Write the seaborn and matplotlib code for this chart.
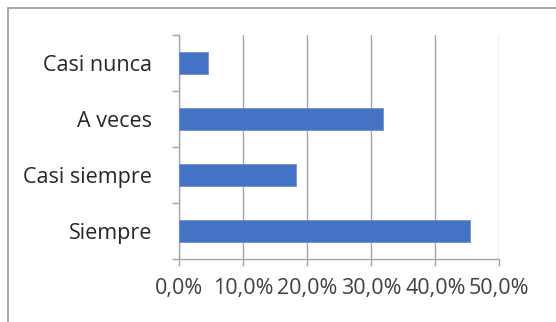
import matplotlib
matplotlib.use("Agg")
import matplotlib.pyplot as plt
from matplotlib.patches import Rectangle
import seaborn as sns
import pandas as pd

categories = ["Casi nunca", "A veces", "Casi siempre", "Siempre"]
values = [4.5, 31.8, 18.2, 45.5]
x_ticks = [0, 10, 20, 30, 40, 50]
x_tick_labels = ["0,0%", "10,0%", "20,0%", "30,0%", "40,0%", "50,0%"]

df = pd.DataFrame({"categoria": categories, "porcentaje": values})

sns.set_theme(style="white")
plt.rcParams["font.family"] = ["Open Sans", "DejaVu Sans"]

fig = plt.figure(figsize=(5.56, 3.22), dpi=100)
ax = fig.add_axes([0.3225, 0.195, 0.5755, 0.697])

sns.barplot(data=df, x="porcentaje", y="categoria", order=categories,
            orient="h", color="#4472C4", saturation=1, width=0.4,
            edgecolor="#6f92d4", linewidth=0.6, ax=ax, zorder=3)

ax.set_xlim(0, 50)
ax.set_ylim(3.5, -0.5)
ax.set_xticks(x_ticks)
ax.set_xticklabels(x_tick_labels)
ax.set_xlabel("")
ax.set_ylabel("")

grid_col = "#a6a6a6"
ax.grid(axis="x", color=grid_col, linewidth=1.0, zorder=0)
ax.set_axisbelow(True)

for side in ["top", "right"]:
    ax.spines[side].set_visible(False)
for side in ["left", "bottom"]:
    ax.spines[side].set_color(grid_col)
    ax.spines[side].set_linewidth(1.0)

# category boundary ticks on the y axis
ax.set_yticks([-0.5, 0.5, 1.5, 2.5, 3.5], minor=True)
ax.tick_params(axis="y", which="minor", length=5, color=grid_col, width=1.0,
               direction="out", left=True)
ax.tick_params(axis="y", which="major", length=0, pad=19.5,
               labelsize=15.5, labelcolor="#262626")
ax.tick_params(axis="x", which="major", length=5, color=grid_col, width=1.0,
               direction="out", bottom=True, pad=8.5,
               labelsize=15.5, labelcolor="#404040")

# outer chart frame
fig.patches.append(Rectangle((7.5 / 556, -0.05), 1.2, 1 - 7.5 / 322 + 0.05,
                             transform=fig.transFigure, fill=False,
                             edgecolor="#a0a0a0", linewidth=1.3))

fig.savefig("out.png", dpi=100)
